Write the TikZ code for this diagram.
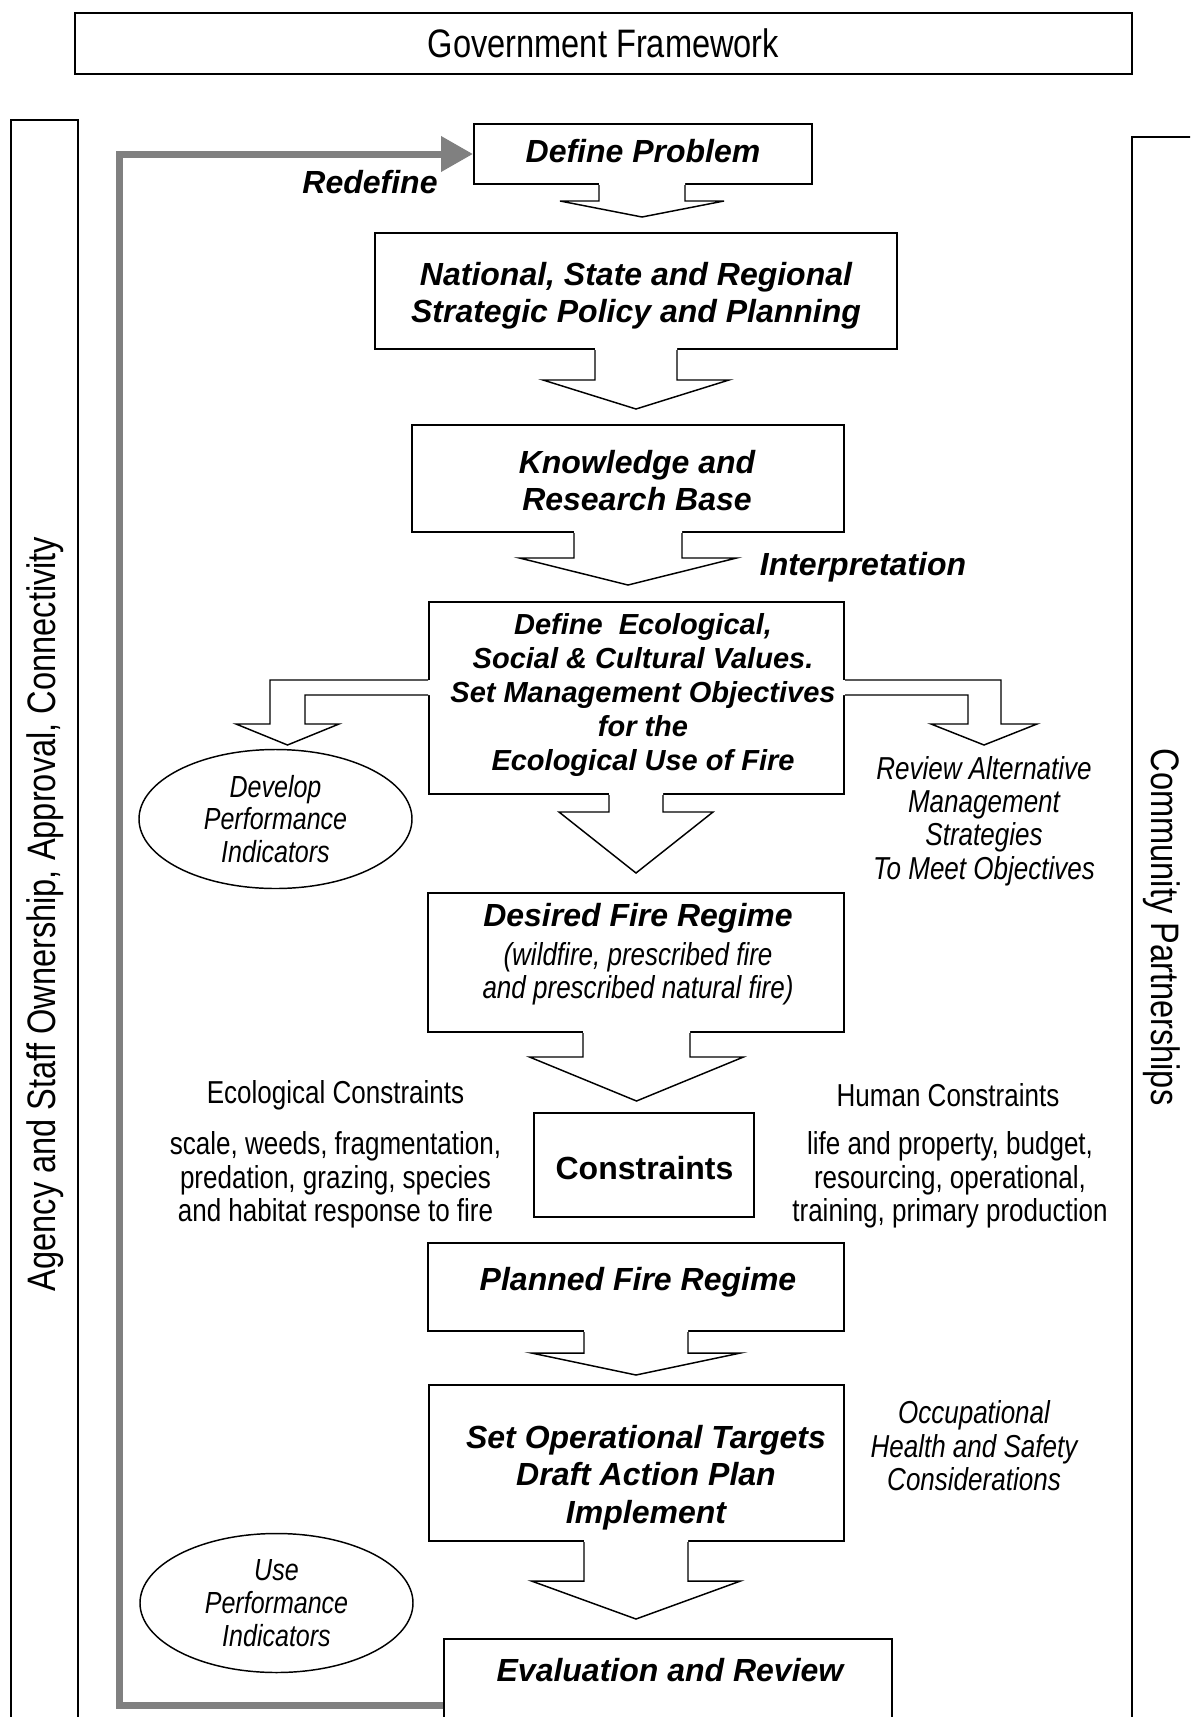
\documentclass[tikz,border=0pt]{standalone}
\usepackage{fontspec}
\setmainfont{Liberation Sans}
\newfontfamily\narrowfont{Liberation Sans}[FakeStretch=0.82]
\usetikzlibrary{arrows.meta,calc,shapes.geometric}

% Hollow block arrow hanging from the bottom edge of a box:
% #1 box above, #2 centre x, #3 shaft half-width, #4 head half-width,
% #5 y of the head base, #6 y of the tip
\newcommand\blockdown[6]{%
  \path (#1.south) ++(0,-2) coordinate (bain);
  \fill[white] (#2-#3,0 |- bain) -- (#2-#3,#5) -- (#2-#4,#5) -- (#2,#6)
     -- (#2+#4,#5) -- (#2+#3,#5) -- (#2+#3,0 |- bain) -- cycle;
  \draw[hollow] (#2-#3,0 |- #1.south) -- (#2-#3,#5) -- (#2-#4,#5) -- (#2,#6)
     -- (#2+#4,#5) -- (#2+#3,#5) -- (#2+#3,0 |- #1.south);
}

\begin{document}
\begin{tikzpicture}[x=0.75pt,y=-0.75pt,
  frame/.style={draw,line width=1.8pt,fill=white,inner sep=0pt},
  box/.style={draw,line width=1.5pt,fill=white,inner sep=0pt},
  hollow/.style={line width=1.1pt,line join=miter},
  oval/.style={draw,ellipse,line width=1.1pt,fill=white,inner sep=0pt,align=center,
     font=\narrowfont\itshape\fontsize{22.9pt}{24.6pt}\selectfont},
  head/.style={inner sep=0pt,align=center,font=\fontsize{24pt}{27.75pt}\selectfont\bfseries\itshape},
  ecohead/.style={inner sep=0pt,align=center,font=\fontsize{21.75pt}{25.5pt}\selectfont\bfseries\itshape},
  opshead/.style={inner sep=0pt,align=center,font=\fontsize{24pt}{28.1pt}\selectfont\bfseries\itshape},
  sub/.style={inner sep=0pt,align=center,font=\narrowfont\itshape\fontsize{23.8pt}{24.75pt}\selectfont},
  note/.style={inner sep=0pt,align=center,font=\narrowfont\itshape\fontsize{23.8pt}{25.1pt}\selectfont},
  plain/.style={inner sep=0pt,align=center,font=\narrowfont\fontsize{23.8pt}{25pt}\selectfont},
  big/.style={inner sep=0pt,font=\narrowfont\fontsize{29.8pt}{32pt}\selectfont},
  feedback/.style={draw=black!50,line width=5.25pt,line join=miter,
     -{Triangle[length=24pt,width=25.5pt]}},
]
\useasboundingbox (0,0) rectangle (1190,1717);
\clip (0,0) rectangle (1190,1717);

% outer frames
\node[frame,minimum width=792.75pt,minimum height=45.75pt,big] (gov) at (603.5,43.5) {Government Framework};
\node[frame,minimum width=50.25pt,minimum height=1215pt] (agency) at (44.5,930) {};
\node[big,rotate=90] (agencyT) at (45,914) {Agency and Staff Ownership, Approval, Connectivity};
\node[frame,minimum width=88.5pt,minimum height=1217.25pt] (community) at (1191,948.5) {};
\node[big,rotate=-90] (communityT) at (1162,927) {Community Partnerships};

% process boxes
\node[box,minimum width=253.5pt,minimum height=45pt] (dp) at (643,154) {};
\node[box,minimum width=391.5pt,minimum height=87pt] (nat) at (636,291) {};
\node[box,minimum width=324pt,minimum height=80.25pt] (kno) at (628,478.5) {};
\node[box,minimum width=311.25pt,minimum height=144pt] (eco) at (636.5,698) {};
\node[box,minimum width=312pt,minimum height=104.25pt] (des) at (636,962.5) {};
\node[box,minimum width=165pt,minimum height=78pt] (con) at (644,1165) {};
\node[box,minimum width=312pt,minimum height=66pt] (pla) at (636,1287) {};
\node[box,minimum width=311.25pt,minimum height=117pt] (ops) at (636.5,1463) {};
\node[box,minimum width=336pt,minimum height=99pt] (evl) at (668,1705) {};

% performance indicator ovals
\node[oval,minimum width=204.75pt,minimum height=104.25pt] (dpi) at (275.5,819) {Develop\\Performance\\Indicators};
\node[oval,minimum width=204.75pt,minimum height=104.25pt] (upi) at (276.5,1603) {Use\\Performance\\Indicators};

% downward block arrows
\blockdown{dp}{642}{43}{82}{201}{217}
\blockdown{nat}{636}{41}{93}{380}{409}
\blockdown{kno}{628}{54}{108.5}{558}{585}
\blockdown{eco}{636}{27}{77}{812}{873}
\blockdown{des}{636.5}{53.5}{107}{1057}{1101}
\blockdown{pla}{636}{52}{104.5}{1353}{1375}
\blockdown{ops}{636}{52}{104.5}{1581}{1619}

% bent block arrows leaving the values box sideways
\path (eco.west) ++(2,0) coordinate (ewin);
\path (eco.east) ++(-2,0) coordinate (eein);
\fill[white] (ewin |- 0,680) -- (270,680) -- (270,724) -- (236,724) -- (287.5,745)
  -- (339,724) -- (305,724) -- (305,695) -- (ewin |- 0,695) -- cycle;
\draw[hollow] (eco.west |- 0,680) -- (270,680) -- (270,724) -- (236,724) -- (287.5,745)
  -- (339,724) -- (305,724) -- (305,695) -- (eco.west |- 0,695);
\fill[white] (eein |- 0,680) -- (1001,680) -- (1001,724) -- (1037,724) -- (984,745)
  -- (931,724) -- (968,724) -- (968,695) -- (eein |- 0,695) -- cycle;
\draw[hollow] (eco.east |- 0,680) -- (1001,680) -- (1001,724) -- (1037,724) -- (984,745)
  -- (931,724) -- (968,724) -- (968,695) -- (eco.east |- 0,695);

% feedback loop back to the start
\draw[feedback] (evl.west) -| (119,0 |- dp.west) -- (dp.west);

% box texts
\node[head] (dpT) at (643,151) {Define Problem};
\node[head] (natT) at (636,296) {National, State and Regional\\Strategic Policy and Planning};
\node[head] (knoT) at (637,481) {Knowledge and\\Research Base};
\node[ecohead] (ecoT) at (643,695) {Define\ \ Ecological,\\Social \& Cultural Values.\\Set Management Objectives\\for the\\Ecological Use of Fire};
\node[head] (desT) at (638,918) {Desired Fire Regime};
\node[sub] (desS) at (638,973.5) {(wildfire, prescribed fire\\and prescribed natural fire)};
\node[inner sep=0pt,font=\fontsize{24pt}{28pt}\selectfont\bfseries] (conT) at (644.5,1168) {Constraints};
\node[head] (plaT) at (638,1282) {Planned Fire Regime};
\node[opshead] (opsT) at (646,1477.5) {Set Operational Targets\\Draft Action Plan\\Implement};
\node[head] (evlT) at (670,1670) {Evaluation and Review};

% side labels
\node[head] (redef) at (370,182) {Redefine};
\node[head] (interp) at (863,567) {Interpretation};
\node[note] (review) at (984,821) {Review Alternative\\Management\\Strategies\\To Meet Objectives};
\node[note] (ohs) at (974,1446) {Occupational\\Health and Safety\\Considerations};
\node[plain] (ecoC) at (335.5,1095) {Ecological Constraints};
\node[plain] (ecoL) at (335.5,1180) {scale, weeds, fragmentation,\\predation, grazing, species\\and habitat response to fire};
\node[plain] (humC) at (948,1095) {Human Constraints};
\node[plain] (humL) at (950,1180) {life and property, budget,\\resourcing, operational,\\training, primary production};
\end{tikzpicture}
\end{document}
